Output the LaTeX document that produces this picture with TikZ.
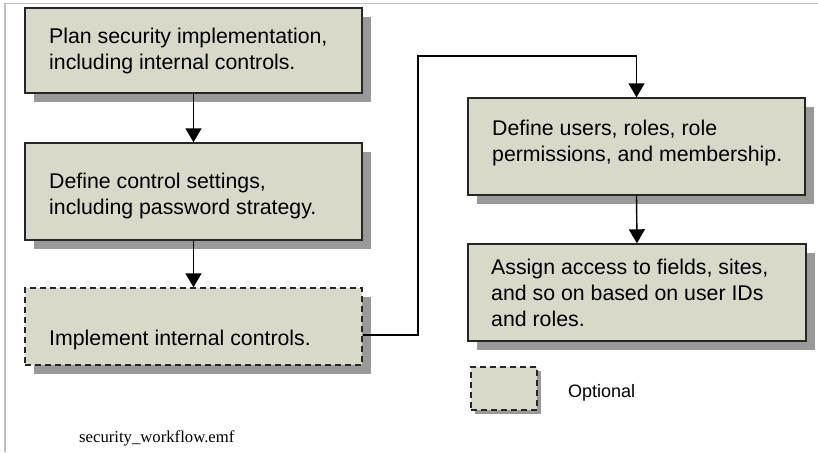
\documentclass[tikz,border=0pt]{standalone}
\usepackage{fontspec}
\setmainfont{Liberation Sans}
\newfontfamily\capfont{Liberation Serif}
\usetikzlibrary{arrows.meta,shadows}
\definecolor{boxfill}{RGB}{216,217,201}
\definecolor{shadowgray}{RGB}{153,153,153}
\definecolor{framegray}{RGB}{192,192,192}
\tikzset{
  x=1pt, y=-1pt,
  stepbox/.style={draw=black!85, line width=1.4pt, fill=boxfill, inner sep=0pt,
    drop shadow={shadow xshift=9pt, shadow yshift=-9pt, fill=shadowgray, opacity=1}},
  optbox/.style={stepbox, dashed, dash pattern=on 6pt off 4pt},
  legbox/.style={draw=black!85, line width=1.4pt, fill=boxfill, inner sep=0pt,
    dash pattern=on 6pt off 4pt,
    drop shadow={shadow xshift=4pt, shadow yshift=-4pt, fill=shadowgray, opacity=1}},
  boxtext/.style={anchor=north west, inner sep=0pt, align=left,
    font=\fontsize{21.3}{25.8}\selectfont},
  conn/.style={draw=black, line width=1.4pt},
  arr/.style={conn, -{Triangle[length=14pt, width=16pt]}},
}
\newcommand{\boxat}[6]{%
  \node[#1, minimum width=#4-#2, minimum height=#5-#3] (#6) at ({(#2+#4)/2},{(#3+#5)/2}) {};}
\begin{document}
\begin{tikzpicture}
\useasboundingbox (0,0) rectangle (818,452);
% page frame (top and left edges)
\draw[framegray, line width=1.5pt] (5,452) -- (5,3.5) -- (818,3.5);

% step boxes
\boxat{stepbox}{25}{8}{362}{93}{b1}
\boxat{stepbox}{25}{143}{362}{240}{b2}
\boxat{optbox}{25}{288}{362}{365}{b3}
\boxat{stepbox}{468}{98}{805}{195}{b4}
\boxat{stepbox}{468}{244}{806}{341}{b5}
\boxat{legbox}{471}{367}{537}{410}{leg}

% box texts
\node[boxtext] (t1) at (49,28) {Plan security implementation,\\including internal controls.};
\node[boxtext] (t2) at (49,173) {Define control settings,\\including password strategy.};
\node[boxtext] (t3) at (49,330) {Implement internal controls.};
\node[boxtext] (t4) at (492,120) {Define users, roles, role\\permissions, and membership.};
\node[boxtext] (t5) at (491,259) {Assign access to fields, sites,\\and so on based on user IDs\\and roles.};

% legend and caption
\node[anchor=base west, inner sep=0pt, font=\fontsize{18}{21}\selectfont] (legtext) at (568,397) {Optional};
\node[anchor=base west, inner sep=0pt, font=\capfont\fontsize{16.7}{20}\selectfont] (caption) at (79,442) {security\_workflow.emf};

% connectors
\coordinate (out3) at ([yshift=-8.5pt]b3.east);
\coordinate (bend) at (418,56);
\draw[arr] (b1.south) -- (b2.north);
\draw[arr] (b2.south) -- (b3.north);
\draw[arr] (out3) -| (bend) -| (b4.north);
\draw[arr] (b4.south) -- (b5.north);
\end{tikzpicture}
\end{document}
